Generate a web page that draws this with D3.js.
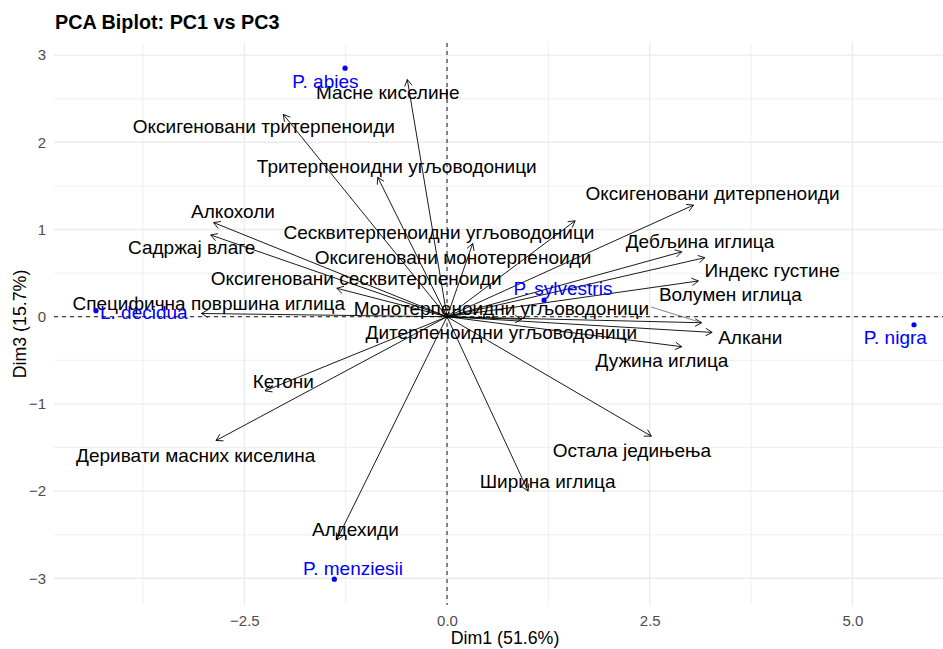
<!DOCTYPE html>
<html>
<head>
<meta charset="utf-8">
<script src="https://cdn.jsdelivr.net/npm/d3@7"></script>
<style>
  html, body { margin: 0; padding: 0; background: #fff; }
  svg { display: block; font-family: "Liberation Sans", Arial, Helvetica, sans-serif; }
</style>
</head>
<body>
<svg id="chart" width="943" height="649"></svg>
<script>
// Variable loadings (arrow tips) on PC1 / PC3
const varNames = [
  "Масне киселине", "Оксигеновани тритерпеноиди", "Тритерпеноидни угљоводоници",
  "Оксигеновани дитерпеноиди", "Алкохоли", "Сесквитерпеноидни угљоводоници",
  "Дебљина иглица", "Садржај влаге", "Оксигеновани монотерпеноиди",
  "Индекс густине", "Оксигеновани сесквитерпеноиди", "Волумен иглица",
  "Специфична површина иглица", "Монотерпеноидни угљоводоници",
  "Дитерпеноидни угљоводоници", "Алкани", "Дужина иглица", "Кетони",
  "Остала једињења", "Деривати масних киселина", "Ширина иглица", "Алдехиди"
];
const varPC1 = [-0.49, -2.02, -0.855, 3.04, -2.88, 0.317, 2.895, -2.915, 1.58, 3.18, -1.36, 3.10,
                -3.03, 3.14, 0.92, 3.27, 2.895, -2.245, 2.52, -2.85, 1.00, -1.36];
const varPC3 = [2.72, 2.32, 1.60, 1.28, 1.08, 0.84, 0.745, 0.937, 1.10, 0.677, 0.326, 0.41,
                0.037, -0.069, -0.03, -0.18, -0.344, -0.85, -1.37, -1.42, -2.00, -2.56];
// Repelled label positions (label centres, in PC units)
const varLabelPC1 = [-0.73, -2.26, -0.62, 3.275, -2.64, -0.10, 3.12, -3.15, 0.074, 4.01, -1.12, 3.495,
                     -2.94, 0.67, 0.67, 3.74, 2.65, -2.02, 2.28, -3.10, 1.24, -1.13];
const varLabelPC3 = [2.58, 2.19, 1.73, 1.415, 1.215, 0.968, 0.87, 0.80, 0.688, 0.53, 0.447, 0.26,
                     0.16, 0.10, -0.175, -0.24, -0.50, -0.734, -1.53, -1.586, -1.884, -2.44];
// Labels pushed far from their arrow get a leader line
const varLeader = [false, false, false, false, false, false, false, false, false, false, false, false,
                   false, true, false, false, false, false, false, false, false, false];

// Species scores
const species = ["P. abies", "P. menziesii", "L. decidua", "P. sylvestris", "P. nigra"];
const spPC1 = [-1.258, -1.39, -4.33, 1.197, 5.76];
const spPC3 = [2.85, -3.01, 0.069, 0.19, -0.092];
const spLabelPC1 = [-1.50, -1.16, -3.74, 1.43, 5.53];
const spLabelPC3 = [2.70, -2.88, 0.054, 0.33, -0.23];

// Axes
const xTicks = [-2.5, 0, 2.5, 5];
const xMinor = [-3.75, -1.25, 1.25, 3.75];
const yTicks = [-3, -2, -1, 0, 1, 2, 3];
const yMinor = [-2.5, -1.5, -0.5, 0.5, 1.5, 2.5];
const xDomain = [-4.848, 6.278];
const yDomain = [-3.306, 3.139];

const title = "PCA Biplot: PC1 vs PC3";
const xTitle = "Dim1 (51.6%)";
const yTitle = "Dim3 (15.7%)";

const svg = d3.select("#chart");
const panel = { left: 54, right: 956, top: 43, bottom: 605 };

const x = d3.scaleLinear().domain(xDomain).range([panel.left, panel.right]);
const y = d3.scaleLinear().domain(yDomain).range([panel.bottom, panel.top]);

// grid
const grid = svg.append("g");
grid.selectAll(".xminor").data(xMinor).enter().append("line")
  .attr("x1", d => x(d)).attr("x2", d => x(d))
  .attr("y1", panel.top).attr("y2", panel.bottom)
  .attr("stroke", "#EBEBEB").attr("stroke-width", 0.8);
grid.selectAll(".yminor").data(yMinor).enter().append("line")
  .attr("y1", d => y(d)).attr("y2", d => y(d))
  .attr("x1", panel.left).attr("x2", panel.right)
  .attr("stroke", "#EBEBEB").attr("stroke-width", 0.8);
grid.selectAll(".xmajor").data(xTicks).enter().append("line")
  .attr("x1", d => x(d)).attr("x2", d => x(d))
  .attr("y1", panel.top).attr("y2", panel.bottom)
  .attr("stroke", "#EBEBEB").attr("stroke-width", 1.4);
grid.selectAll(".ymajor").data(yTicks).enter().append("line")
  .attr("y1", d => y(d)).attr("y2", d => y(d))
  .attr("x1", panel.left).attr("x2", panel.right)
  .attr("stroke", "#EBEBEB").attr("stroke-width", 1.4);

// axis tick labels via d3 axes (no domain/tick lines)
const xAxis = svg.append("g")
  .attr("transform", `translate(0,${panel.bottom})`)
  .call(d3.axisBottom(x).tickValues(xTicks).tickFormat(d3.format(".1f")).tickSize(0).tickPadding(8));
const yAxis = svg.append("g")
  .attr("transform", `translate(${panel.left},0)`)
  .call(d3.axisLeft(y).tickValues(yTicks).tickFormat(d3.format("d")).tickSize(0).tickPadding(8));
[xAxis, yAxis].forEach(a => {
  a.select(".domain").remove();
  a.selectAll("text").attr("fill", "#4D4D4D").style("font-size", "15px")
    .style("font-family", "'Liberation Sans', Arial, sans-serif");
});
xAxis.selectAll("text").attr("dy", "0.85em");

// reference lines
svg.append("line")
  .attr("x1", panel.left).attr("x2", panel.right)
  .attr("y1", y(0)).attr("y2", y(0))
  .attr("stroke", "#000").attr("stroke-width", 0.9).attr("stroke-dasharray", "4,4");
svg.append("line")
  .attr("x1", x(0)).attr("x2", x(0))
  .attr("y1", panel.top).attr("y2", panel.bottom)
  .attr("stroke", "#000").attr("stroke-width", 0.9).attr("stroke-dasharray", "4,4");

// arrows
const vars = varNames.map((n, i) => ({
  name: n, px: varPC1[i], py: varPC3[i], lx: varLabelPC1[i], ly: varLabelPC3[i], leader: varLeader[i]
}));
const headLen = 7.5, headAng = Math.PI / 6;
const arrows = svg.append("g").attr("stroke", "#000").attr("stroke-width", 0.9).attr("fill", "none");
vars.forEach(v => {
  const x0 = x(0), y0 = y(0), x1 = x(v.px), y1 = y(v.py);
  const a = Math.atan2(y1 - y0, x1 - x0);
  arrows.append("line").attr("x1", x0).attr("y1", y0).attr("x2", x1).attr("y2", y1);
  const p1 = [x1 - headLen * Math.cos(a - headAng), y1 - headLen * Math.sin(a - headAng)];
  const p2 = [x1 - headLen * Math.cos(a + headAng), y1 - headLen * Math.sin(a + headAng)];
  arrows.append("path").attr("d", `M${p1[0]},${p1[1]}L${x1},${y1}L${p2[0]},${p2[1]}`);
});

// variable labels
const labelG = svg.append("g");
vars.forEach(v => {
  const t = labelG.append("text")
    .attr("x", x(v.lx)).attr("y", y(v.ly)).attr("dy", "0.36em")
    .attr("text-anchor", "middle").attr("fill", "#000")
    .style("font-size", "19px")
    .text(v.name);
  if (v.leader) {
    const w = t.node().getComputedTextLength();
    const sx = x(v.lx) + w / 2 + 2, sy = y(v.ly) - 1;
    const tx = x(v.px), ty = y(v.py);
    const d = Math.hypot(tx - sx, ty - sy);
    labelG.append("line")
      .attr("x1", sx).attr("y1", sy)
      .attr("x2", sx + (tx - sx) * (d - 4) / d).attr("y2", sy + (ty - sy) * (d - 4) / d)
      .attr("stroke", "#333").attr("stroke-width", 0.6);
  }
});

// species points + labels
const sp = species.map((n, i) => ({ name: n, px: spPC1[i], py: spPC3[i], lx: spLabelPC1[i], ly: spLabelPC3[i] }));
svg.append("g").selectAll("circle").data(sp).enter().append("circle")
  .attr("cx", d => x(d.px)).attr("cy", d => y(d.py)).attr("r", 2.6).attr("fill", "#0000FF");
svg.append("g").selectAll("text").data(sp).enter().append("text")
  .attr("x", d => x(d.lx)).attr("y", d => y(d.ly)).attr("dy", "0.36em")
  .attr("text-anchor", "middle").attr("fill", "#0000FF").style("font-size", "19px")
  .text(d => d.name);

// titles
svg.append("text").attr("x", 55).attr("y", 29)
  .style("font-size", "19.8px").style("font-weight", "bold").attr("fill", "#000").text(title);
svg.append("text").attr("x", (panel.left + panel.right) / 2).attr("y", 644)
  .attr("text-anchor", "middle").style("font-size", "17.8px").attr("fill", "#000").text(xTitle);
svg.append("text")
  .attr("transform", `translate(26,${(panel.top + panel.bottom) / 2}) rotate(-90)`)
  .attr("text-anchor", "middle").style("font-size", "17.8px").attr("fill", "#000").text(yTitle);
</script>
</body>
</html>
